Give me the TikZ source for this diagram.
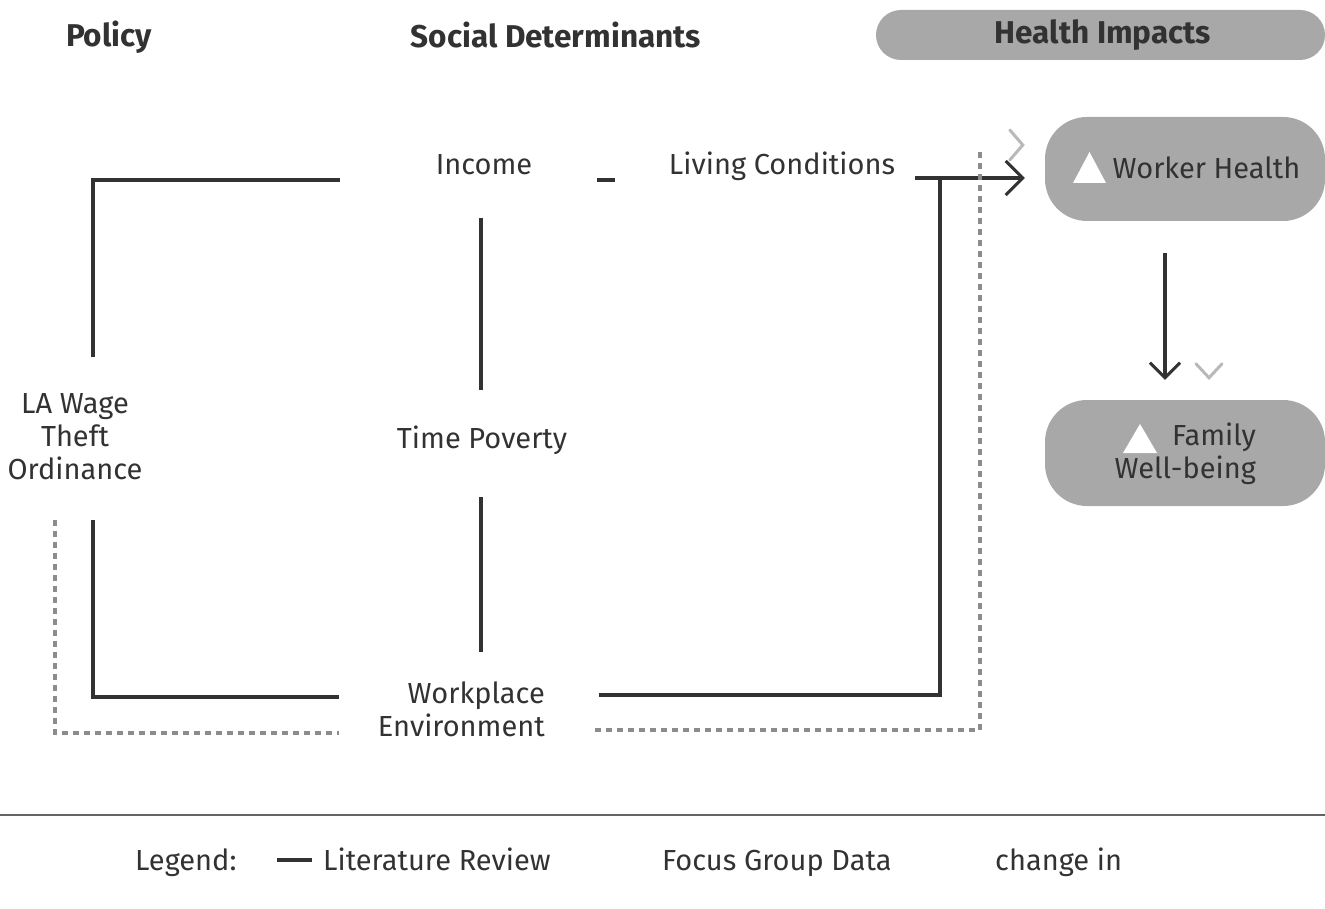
\documentclass[tikz,border=0pt]{standalone}
\usepackage{fontspec}
\setmainfont{Fira Sans}
\usetikzlibrary{arrows.meta,calc}
\definecolor{ink}{RGB}{50,50,50}
\definecolor{pill}{RGB}{168,168,168}
\definecolor{dotgray}{RGB}{140,140,140}
\definecolor{lightchev}{RGB}{185,185,185}
\definecolor{rule}{RGB}{100,100,100}
\begin{document}
\begin{tikzpicture}[x=1pt,y=-1pt,
  lbl/.style={font=\fontsize{29}{33}\selectfont, text=ink, align=center, inner sep=0pt},
  hdr/.style={font=\fontsize{31.5}{34}\selectfont\bfseries, text=ink, inner sep=0pt},
  lit/.style={draw=ink, line width=4pt},
  focus/.style={draw=dotgray, line width=3.2pt, dash pattern=on 6pt off 5pt},
  pillbox/.style={fill=pill, draw=none, inner sep=0pt},
  chev/.style={line width=3pt, line cap=round, line join=miter},
  tri/.style={fill=white}]
\useasboundingbox (0,0) rectangle (1325,909);

% column headings
\node[hdr] (hpol) at (109,37) {Policy};
\node[hdr] (hsoc) at (556,35) {Social Determinants};
\node[pillbox, rounded corners=25, minimum width=449, minimum height=50] (hbox) at (1100.5,35) {};
\node[hdr] (himp) at (1103,35) {Health Impacts};

% health impact pills
\node[pillbox, rounded corners=42, minimum width=280, minimum height=104] (whbox) at (1185,169) {};
\node[pillbox, rounded corners=42, minimum width=280, minimum height=106] (fwbox) at (1185,453) {};
\fill[tri] (1073,183) -- (1089.5,152) -- (1106,183) -- cycle;
\fill[tri] (1123,453) -- (1140,424) -- (1157,453) -- cycle;
\node[lbl] (wh) at (1206.5,168) {Worker Health};
\node[lbl, align=right, anchor=east] (fw) at (1256,454) {Family\\Well-being};

% determinants and policy
\node[lbl] (la) at (75,437) {LA Wage\\Theft\\Ordinance};
\node[lbl] (inc) at (484,165) {Income};
\node[lbl] (liv) at (782,166) {Living Conditions};
\node[lbl] (tp) at (482,440) {Time Poverty};
\node[lbl, align=right, anchor=east] (we) at (545,709) {Workplace\\Environment};

% literature review links
\draw[lit] ($(inc.center)+(-144,15)$) -| ($(la.center)+(18,-80)$);
\draw[lit] ($(la.center)+(18,83)$) |- ($(we.center)+(-122,-12)$);
\draw[lit] ($(inc.center)+(-3,53)$) -- ($(tp.center)+(-1,-50)$);
\draw[lit] ($(tp.center)+(-1,57)$) -- ($(tp.center)+(-1,212)$);
\draw[lit] ($(inc.center)+(113,15)$) -- ($(inc.center)+(131,15)$);
\draw[lit] ($(we.center)+(138,-14)$) -| ($(liv.center)+(158,12)$);
\draw[lit, -{Straight Barb[length=17pt, width=34pt, line width=3pt]}]
  ($(liv.center)+(133,12)$) -- ($(whbox.west)+(-20,9)$);
\draw[lit, -{Straight Barb[length=15pt, width=30pt, line width=3pt]}]
  ($(whbox.south)+(-20,32)$) -- ($(fwbox.north)+(-20,-20)$);

% focus group links
\draw[focus] ($(la.center)+(-20,83)$) |- ($(we.center)+(-122,24)$);
\draw[focus] ($(we.center)+(134,21)$) -| ($(liv.center)+(198,-16)$);
\draw[chev, draw=lightchev] ($(whbox.west)+(-35,-39)$) -- ($(whbox.west)+(-22,-24)$) -- ($(whbox.west)+(-35,-9)$);
\draw[chev, draw=lightchev] ($(fwbox.north)+(11,-36)$) -- ($(fwbox.north)+(24,-22)$) -- ($(fwbox.north)+(37,-36)$);

% legend
\draw[draw=rule, line width=2pt] (0,815) -- (1325,815);
\node[lbl, anchor=base west] (lg) at (135,870) {Legend:};
\draw[lit] (277,860) -- (312,860);
\node[lbl, anchor=base west] (llit) at (323,870) {Literature Review};
\node[lbl, anchor=base west] (lfoc) at (662,870) {Focus Group Data};
\node[lbl, anchor=base west] (lchg) at (995,870) {change in};
\end{tikzpicture}
\end{document}
